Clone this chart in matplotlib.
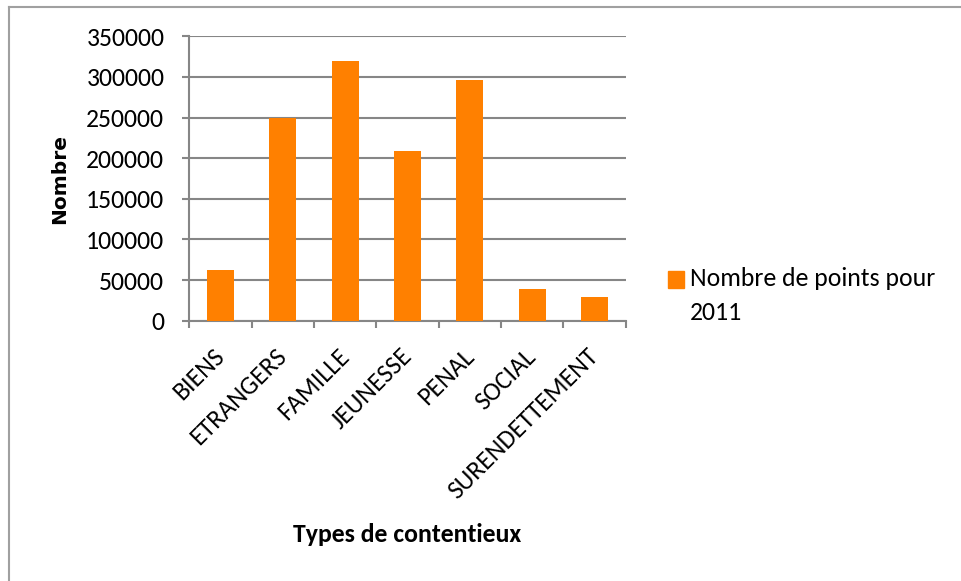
import matplotlib
matplotlib.use("Agg")
import matplotlib.pyplot as plt
from matplotlib.patches import Rectangle
from matplotlib.lines import Line2D
from matplotlib.transforms import ScaledTranslation

categories = ["BIENS", "ETRANGERS", "FAMILLE", "JEUNESSE", "PENAL", "SOCIAL", "SURENDETTEMENT"]
values = [63000, 250000, 319000, 209000, 296000, 39500, 29000]
series_label = "Nombre de points pour\n2011"
y_ticks = [0, 50000, 100000, 150000, 200000, 250000, 300000, 350000]

plt.rcParams['font.family'] = ['Carlito', 'Lato', 'DejaVu Sans']

W, H = 961, 581
fig = plt.figure(figsize=(W / 100, H / 100), dpi=100)
fig.patch.set_facecolor('white')

def fx(px):
    return px / W

def fy(py):
    return 1 - py / H

FS = 18.5

ax = fig.add_axes([fx(189.3), fy(320.7), fx(625.7) - fx(189.3), fy(36.3) - fy(320.7)])

orange = '#FF8000'
grey = '#868686'
x = list(range(len(categories)))
ax.bar(x, values, width=0.43, color=orange, zorder=3)

ax.set_xlim(-0.5, len(categories) - 0.5)
ax.set_ylim(0, 350000)
ax.set_yticks(y_ticks)
ax.set_yticklabels([str(v) for v in y_ticks], fontsize=FS)
ax.yaxis.grid(True, color=grey, linewidth=1.5, zorder=0)
ax.set_axisbelow(True)

ax.set_xticks(x)
ax.set_xticklabels(categories, rotation=45, ha='right', va='top', rotation_mode='anchor', fontsize=FS)
ax.set_xticks([i - 0.5 for i in range(len(categories) + 1)], minor=True)
ax.tick_params(axis='x', which='major', length=0, pad=17)
ax.tick_params(axis='x', which='minor', length=5, width=1.5, color=grey)
ax.tick_params(axis='y', which='major', length=5, width=1.5, color=grey, pad=13)

shift = ScaledTranslation(-8 / 100, 0, fig.dpi_scale_trans)
for lbl in ax.get_xticklabels():
    lbl.set_transform(lbl.get_transform() + shift)

for side in ['top', 'right']:
    ax.spines[side].set_visible(False)
for side in ['left', 'bottom']:
    ax.spines[side].set_color(grey)
    ax.spines[side].set_linewidth(1.5)

fig.text(fx(60), fy(179), "Nombre", rotation=90, ha='center', va='center',
         fontsize=14.5, fontweight='bold', family=['Verdana', 'DejaVu Sans'])
fig.text(fx(407.5), fy(535), "Types de contentieux", ha='center', va='center',
         fontsize=FS, fontweight='bold')

# legend
fig.patches.append(Rectangle((fx(668), fy(288)), fx(684) - fx(668), fy(271) - fy(288),
                             transform=fig.transFigure, color=orange, figure=fig))
fig.text(fx(690), fy(279), series_label.split("\n")[0], ha='left', va='center', fontsize=FS)
fig.text(fx(690), fy(313), series_label.split("\n")[1], ha='left', va='center', fontsize=FS)

# chart border (top and left visible)
fig.add_artist(Line2D([fx(9), 1], [fy(7), fy(7)], transform=fig.transFigure, color='#a0a0a0', linewidth=1.5))
fig.add_artist(Line2D([fx(9), fx(9)], [fy(7), 0], transform=fig.transFigure, color='#a0a0a0', linewidth=1.5))

fig.savefig("out.png", dpi=100, facecolor='white')
